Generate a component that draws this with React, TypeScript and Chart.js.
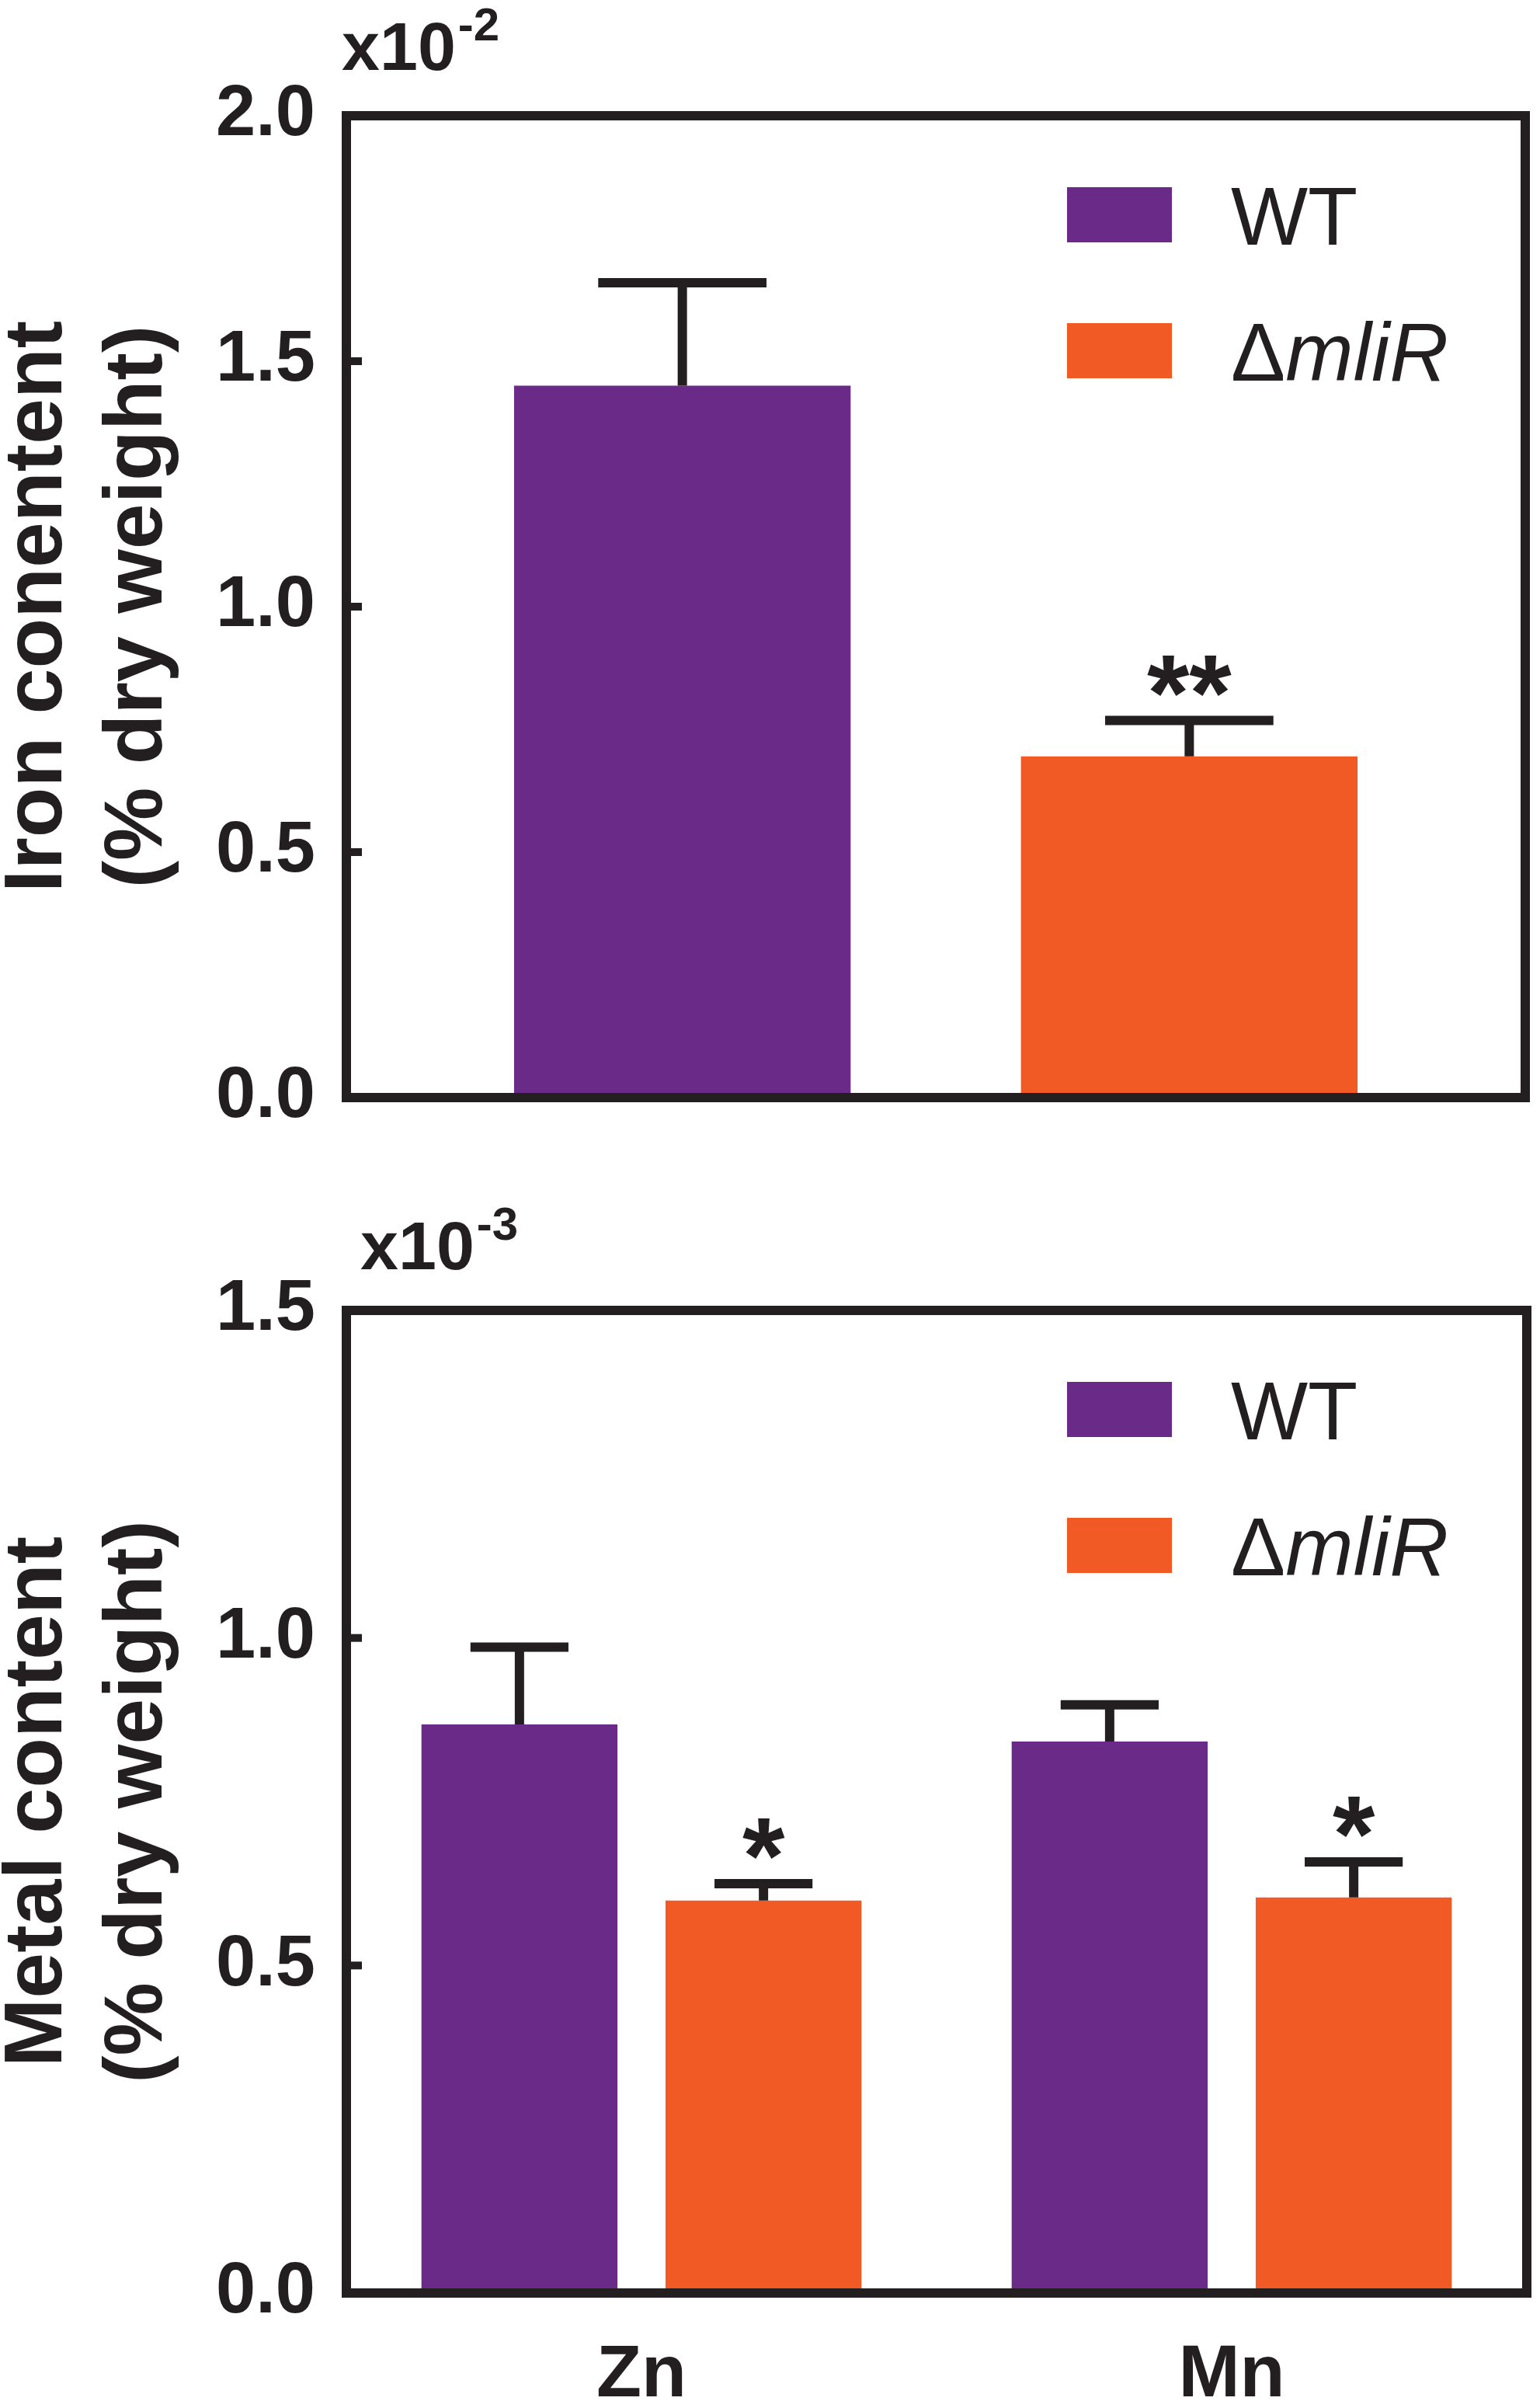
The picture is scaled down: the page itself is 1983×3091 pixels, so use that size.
import { useEffect, useRef } from "react";
import { Chart, registerables } from "chart.js";

Chart.register(...registerables);

const FONT = '"Liberation Sans", Arial, Helvetica, sans-serif';
const INK = "#231f20";
const WT_COLOR = "#6a2a87";
const MLIR_COLOR = "#f15a24";

const seriesNames = ["WT", "ΔmliR"];

// Iron panel (x10^-2 % dry weight)
const ironCategories = [""];
const ironWT = [1.45];
const ironWTErr = [0.21];
const ironMliR = [0.695];
const ironMliRErr = [0.073];
const ironWTMarks = [""];
const ironMliRMarks = ["**"];
const ironTicks = [0, 0.5, 1.0, 1.5, 2.0];

// Zn / Mn panel (x10^-3 % dry weight)
const metalCategories = ["Zn", "Mn"];
const metalWT = [0.868, 0.842];
const metalWTErr = [0.118, 0.056];
const metalMliR = [0.599, 0.604];
const metalMliRErr = [0.026, 0.054];
const metalWTMarks = ["", ""];
const metalMliRMarks = ["*", "*"];
const metalTicks = [0, 0.5, 1.0, 1.5];

interface PanelProps {
  canvasTop: number;
  canvasHeight: number;
  categories: string[];
  values: number[][];
  errors: number[][];
  marks: string[][];
  ticks: number[];
  yTitle: string[];
  exponent: string;
  showXLabels: boolean;
  pad: { top: number; right: number; left: number; xAxis: number };
  catPct: number;
  barPct: number;
  note: { dx: number; dy: number };
}

function BarPanel(props: PanelProps) {
  const canvasRef = useRef<HTMLCanvasElement>(null);
  const chartRef = useRef<Chart | null>(null);

  useEffect(() => {
    if (!canvasRef.current) return;
    if (chartRef.current) chartRef.current.destroy();

    const ticks = props.ticks;
    const yMax = ticks[ticks.length - 1];

    const decor = {
      id: "decor",
      afterDatasetsDraw(chart: any) {
        const ctx = chart.ctx;
        const area = chart.chartArea;
        const y = chart.scales.y;
        ctx.save();

        // error bars + significance marks
        chart.data.datasets.forEach((_ds: any, di: number) => {
          const meta = chart.getDatasetMeta(di);
          meta.data.forEach((bar: any, i: number) => {
            const v = props.values[di][i];
            const e = props.errors[di][i];
            const yTop = y.getPixelForValue(v + e);
            const yBar = y.getPixelForValue(v);
            const cap = bar.width / 2;
            ctx.strokeStyle = INK;
            ctx.lineWidth = 12;
            ctx.lineCap = "butt";
            ctx.beginPath();
            ctx.moveTo(bar.x, yBar);
            ctx.lineTo(bar.x, yTop);
            ctx.moveTo(bar.x - cap / 2, yTop);
            ctx.lineTo(bar.x + cap / 2, yTop);
            ctx.stroke();

            const mark = props.marks[di][i];
            if (mark) {
              ctx.font = `bold 140px ${FONT}`;
              ctx.fillStyle = INK;
              ctx.textAlign = "center";
              ctx.textBaseline = "alphabetic";
              const m = ctx.measureText(mark);
              const glyphBottom = yTop - 6 - 26;
              ctx.fillText(mark, bar.x, glyphBottom - m.actualBoundingBoxDescent);
            }
          });
        });

        // frame
        ctx.strokeStyle = INK;
        ctx.lineWidth = 12;
        ctx.lineJoin = "miter";
        ctx.strokeRect(area.left, area.top, area.right - area.left, area.bottom - area.top);

        // inward tick marks
        ctx.lineWidth = 10;
        ticks.slice(1, -1).forEach((t) => {
          const py = y.getPixelForValue(t);
          ctx.beginPath();
          ctx.moveTo(area.left, py);
          ctx.lineTo(area.left + 20, py);
          ctx.stroke();
        });

        // legend
        const sx = area.left + 928;
        const sw = 135;
        const sh = 71;
        const rows = [area.top + 92, area.top + 267];
        chart.data.datasets.forEach((ds: any, di: number) => {
          const sy = rows[di];
          ctx.fillStyle = ds.backgroundColor;
          ctx.fillRect(sx, sy, sw, sh);
          ctx.fillStyle = INK;
          ctx.textAlign = "left";
          ctx.textBaseline = "alphabetic";
          const tx = sx + sw + 76;
          const base = sy + sh / 2 + 38;
          const label: string = ds.label;
          if (label.startsWith("Δ")) {
            ctx.font = `105px ${FONT}`;
            ctx.fillText("Δ", tx, base);
            const w = ctx.measureText("Δ").width;
            ctx.font = `italic 105px ${FONT}`;
            ctx.fillText(label.slice(1), tx + w, base);
          } else {
            ctx.font = `105px ${FONT}`;
            ctx.fillText(label, tx, base);
          }
        });

        // scale multiplier
        const nx = area.left + props.note.dx;
        const ny = area.top - props.note.dy;
        ctx.fillStyle = INK;
        ctx.textAlign = "left";
        ctx.font = `bold 88px ${FONT}`;
        ctx.fillText("x10", nx, ny);
        const nw = ctx.measureText("x10").width;
        ctx.font = `bold 60px ${FONT}`;
        ctx.fillText(props.exponent, nx + nw + 3, ny - 38);

        ctx.restore();
      },
    };

    chartRef.current = new Chart(canvasRef.current, {
      type: "bar",
      data: {
        labels: props.categories,
        datasets: [
          {
            label: seriesNames[0],
            data: props.values[0],
            backgroundColor: WT_COLOR,
            borderWidth: 0,
            categoryPercentage: props.catPct,
            barPercentage: props.barPct,
          },
          {
            label: seriesNames[1],
            data: props.values[1],
            backgroundColor: MLIR_COLOR,
            borderWidth: 0,
            categoryPercentage: props.catPct,
            barPercentage: props.barPct,
          },
        ],
      },
      options: {
        responsive: false,
        animation: false,
        devicePixelRatio: 1,
        layout: {
          padding: {
            top: props.pad.top,
            right: props.pad.right,
            left: props.pad.left,
            bottom: 0,
          },
        },
        plugins: {
          legend: { display: false },
          tooltip: { enabled: false },
        },
        scales: {
          x: {
            grid: { display: false },
            border: { display: false },
            ticks: {
              display: props.showXLabels,
              color: INK,
              padding: 42,
              font: { family: FONT, size: 95, weight: "bold" },
            },
            afterFit: (scale: any) => {
              scale.height = props.pad.xAxis;
            },
          },
          y: {
            min: 0,
            max: yMax,
            grid: { display: false },
            border: { display: false },
            afterBuildTicks: (scale: any) => {
              scale.ticks = ticks.map((v) => ({ value: v }));
            },
            ticks: {
              color: INK,
              padding: 32,
              font: { family: FONT, size: 92, weight: "bold" },
              callback: (v: any) => Number(v).toFixed(1),
            },
            title: {
              display: true,
              text: props.yTitle,
              color: INK,
              padding: { top: -14, bottom: 0 },
              font: { family: FONT, size: 106, weight: "bold", lineHeight: 1.21 },
            },
            afterFit: (scale: any) => {
              scale.width = 446 - props.pad.left;
            },
          },
        },
      } as any,
      plugins: [decor],
    });

    return () => {
      if (chartRef.current) {
        chartRef.current.destroy();
        chartRef.current = null;
      }
    };
  }, [props]);

  return (
    <canvas
      ref={canvasRef}
      width={1983}
      height={props.canvasHeight}
      style={{
        position: "absolute",
        left: 0,
        top: props.canvasTop,
        width: 1983,
        height: props.canvasHeight,
        display: "block",
      }}
    />
  );
}

const ironProps: PanelProps = {
  canvasTop: 0,
  canvasHeight: 1545,
  categories: ironCategories,
  values: [ironWT, ironMliR],
  errors: [ironWTErr, ironMliRErr],
  marks: [ironWTMarks, ironMliRMarks],
  ticks: ironTicks,
  yTitle: ["Iron conentent", "(% dry weight)"],
  exponent: "-2",
  showXLabels: false,
  pad: { top: 149, right: 19, left: 0, xAxis: 132 },
  catPct: 0.86,
  barPct: 0.664,
  note: { dx: -6, dy: 59 },
};

const metalProps: PanelProps = {
  canvasTop: 1545,
  canvasHeight: 1546,
  categories: metalCategories,
  values: [metalWT, metalMliR],
  errors: [metalWTErr, metalMliRErr],
  marks: [metalWTMarks, metalMliRMarks],
  ticks: metalTicks,
  yTitle: ["Metal content", "(% dry weight)"],
  exponent: "-3",
  showXLabels: true,
  pad: { top: 142, right: 17, left: 0, xAxis: 139 },
  catPct: 0.827,
  barPct: 0.803,
  note: { dx: 18, dy: 53 },
};

export default function App() {
  return (
    <div
      style={{
        position: "absolute",
        left: 0,
        top: 0,
        width: 1983,
        height: 3091,
        background: "#ffffff",
        overflow: "hidden",
      }}
    >
      <BarPanel {...ironProps} />
      <BarPanel {...metalProps} />
    </div>
  );
}
